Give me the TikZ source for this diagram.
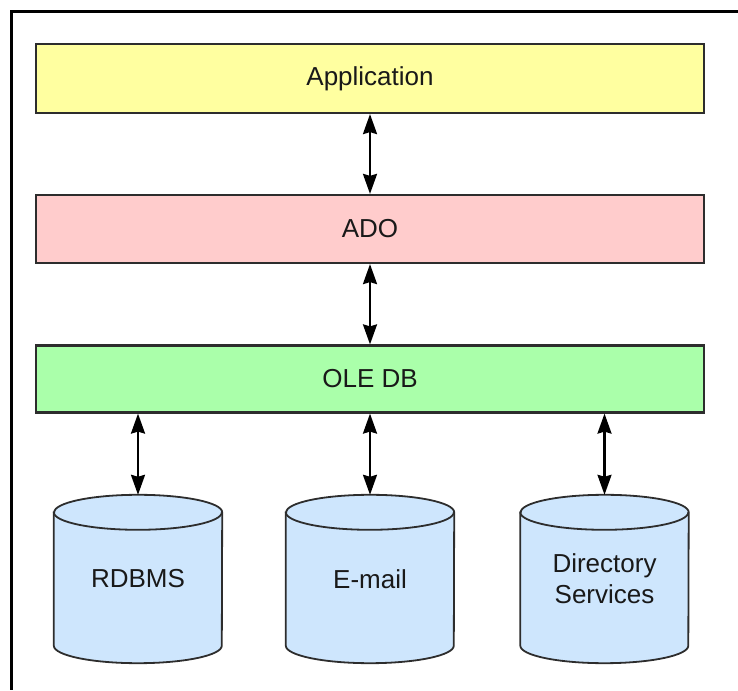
\documentclass[tikz,border=0pt]{standalone}
\usepackage{fontspec}
\setmainfont{Liberation Sans}
\usetikzlibrary{arrows.meta,backgrounds}

\definecolor{appfill}{RGB}{255,255,160}
\definecolor{adofill}{RGB}{255,204,204}
\definecolor{olefill}{RGB}{170,255,170}
\definecolor{dbfill}{RGB}{206,230,253}
\definecolor{edge}{RGB}{45,45,45}
\definecolor{ink}{RGB}{25,25,25}

\tikzset{
  layer/.style={draw=edge, line width=2.2pt, minimum width=668pt, inner sep=0pt,
    font=\fontsize{26}{30}\selectfont, text=ink},
  dbnode/.style={minimum width=168pt, minimum height=168pt, inner sep=0pt,
    align=center, font=\fontsize{26}{31}\selectfont, text=ink},
  drum/.style={fill=dbfill, draw=edge, line width=1.8pt},
  link/.style={line width=2.2pt, black,
    {Stealth[length=20pt, width=14pt, inset=2pt]}-{Stealth[length=20pt, width=14pt, inset=2pt]}},
  frame/.style={line width=3pt, black}
}

% cylinder drawn behind a database node
\newcommand\dbdrum[1]{%
  \begin{pgfonlayer}{background}
    \path[drum] ([yshift=-17.5pt]#1.north west) -- ([yshift=17.5pt]#1.south west)
      arc[start angle=180, end angle=360, x radius=84pt, y radius=17.5pt]
      -- ([yshift=-17.5pt]#1.north east)
      arc[start angle=0, end angle=180, x radius=84pt, y radius=17.5pt] -- cycle;
    \draw[drum, fill=none] ([yshift=-17.5pt]#1.north west)
      arc[start angle=180, end angle=360, x radius=84pt, y radius=17.5pt];
  \end{pgfonlayer}}

\begin{document}
\begin{tikzpicture}[x=1pt, y=1pt]
  \useasboundingbox (0,0) rectangle (738,690);

  % outer frame (top and left edges)
  \coordinate (ftl) at (11,678);
  \coordinate (ftr) at (738,678);
  \coordinate (fbl) at (11,0);
  \draw[frame] (ftr) -- (ftl) -- (fbl);

  % layers
  \node[layer, fill=appfill, minimum height=69pt] (app) at (370,611.5) {Application};
  \node[layer, fill=adofill, minimum height=68pt] (ado) at (370,461) {ADO};
  \node[layer, fill=olefill, minimum height=67pt] (ole) at (370,311) {OLE DB};

  % data stores
  \node[dbnode] (rdb) at (138,111) {RDBMS};
  \node[dbnode] (mail) at (370,111) {E-mail};
  \node[dbnode] (dir) at (604.5,111) {Directory\\Services};
  \dbdrum{rdb}
  \dbdrum{mail}
  \dbdrum{dir}

  % connectors
  \draw[link] (app.south) -- (ado.north);
  \draw[link] (ado.south) -- (ole.north);
  \draw[link] (ole.south -| rdb.north) -- (rdb.north);
  \draw[link] (ole.south -| mail.north) -- (mail.north);
  \draw[link] (ole.south -| dir.north) -- (dir.north);
\end{tikzpicture}
\end{document}
